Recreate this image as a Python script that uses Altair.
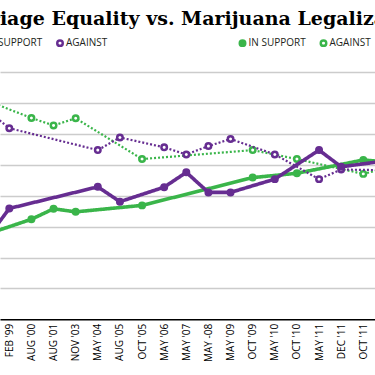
import altair as alt
import pandas as pd

# ---- data -------------------------------------------------------------------
title_text = "Marriage Equality vs. Marijuana Legalization"
series_names = ["IN SUPPORT", "AGAINST"]

x_labels = ["FEB '99", "AUG '00", "AUG '01", "NOV '03", "MAY '04", "AUG '05",
            "OCT '05", "MAY '06", "MAY '07", "MAY -08", "MAY '09", "OCT '09",
            "MAY '10", "OCT '10", "MAY '11", "DEC '11", "OCT '11"]

# position = index into x_labels (-1 and 17 lie just outside the cropped view)
marriage_pos = [-1, 0, 4, 5, 7, 8, 9, 10, 12, 14, 15, 17]
marriage_support = [26.2, 35.9, 42.9, 38.1, 42.8, 47.6, 41.1, 41.1, 45.4, 54.8, 49.4, 51.3]
marriage_against = [67.7, 61.9, 54.8, 58.9, 55.7, 53.4, 56.1, 58.4, 53.4, 45.4, 48.5, 48.3]

marijuana_pos = [-1, 1, 2, 3, 6, 11, 13, 16, 17]
marijuana_support = [27.6, 32.4, 35.8, 34.8, 36.9, 45.9, 47.3, 51.6, 51.0]
marijuana_against = [70.8, 65.2, 62.8, 65.1, 51.9, 54.8, 51.9, 47.1, 48.9]

grid_values = [10, 20, 30, 40, 50, 60, 70, 80]

PURPLE = "#662d91"
GREEN = "#3ab54a"


def long_table(pos, support, against):
    rows = []
    for p, v in zip(pos, against):
        rows.append({"pos": p, "value": v, "series": series_names[1]})
    for p, v in zip(pos, support):
        rows.append({"pos": p, "value": v, "series": series_names[0]})
    return pd.DataFrame(rows)


marriage_df = long_table(marriage_pos, marriage_support, marriage_against)
marijuana_df = long_table(marijuana_pos, marijuana_support, marijuana_against)

label_expr = "[" + ",".join('"%s"' % s for s in x_labels) + "][datum.value]"

x_enc = alt.X(
    "pos:Q",
    scale=alt.Scale(domain=[-0.4203, 16.529], nice=False, zero=False),
    axis=alt.Axis(
        values=list(range(len(x_labels))), labelExpr=label_expr, labelAngle=270,
        offset=-55.7, ticks=False, grid=False, title=None,
        domainColor="black", domainWidth=1.5,
        labelFont="Open Sans", labelFontSize=10, labelColor="black",
        labelPadding=4, labelOverlap=False, labelFlush=False, labelBound=False,
    ),
)
y_enc = alt.Y(
    "value:Q",
    scale=alt.Scale(domain=[-18.04, 103.42], nice=False, zero=False),
    axis=alt.Axis(values=grid_values, grid=True, gridColor="#cccccc", gridWidth=1.5,
                  labels=False, ticks=False, domain=False, title=None),
)
dash_enc = alt.StrokeDash("series:N", scale=alt.Scale(domain=series_names, range=[[1, 0], [2, 2]]), legend=None)
width_enc = alt.StrokeWidth("series:N", scale=alt.Scale(domain=series_names, range=[3.6, 2.2]), legend=None)


def topic_layer(df, color, legend_x):
    lines = alt.Chart(df).mark_line(color=color, clip=True, strokeCap="butt").encode(
        x=x_enc, y=y_enc, strokeDash=dash_enc, strokeWidth=width_enc
    )
    points = alt.Chart(df).mark_point(
        shape="circle", filled=True, stroke=color, strokeWidth=2.5, size=30, opacity=1, clip=True
    ).encode(
        x=x_enc, y=y_enc,
        fill=alt.Fill(
            "series:N",
            scale=alt.Scale(domain=series_names, range=[color, "white"]),
            legend=alt.Legend(
                orient="none", legendX=legend_x, legendY=38, direction="horizontal",
                title=None, symbolType="circle", symbolSize=30, symbolStrokeWidth=2.5,
                symbolStrokeColor=color, labelFont="Open Sans", labelFontSize=10,
                labelColor="#231f20", columnPadding=9, labelOffset=1, padding=0,
            ),
        ),
    )
    return alt.layer(lines, points)


marijuana = topic_layer(marijuana_df, GREEN, 237.5)
marriage = topic_layer(marriage_df, PURPLE, -26)

chart = (
    alt.layer(marijuana, marriage)
    .resolve_scale(fill="independent")
    .properties(
        width=375, height=375, padding=0,
        autosize=alt.AutoSizeParams(type="none"),
        background="white",
        title=alt.TitleParams(
            text=title_text, font="DejaVu Serif", fontSize=19, fontWeight="bold",
            color="black", anchor="middle", frame="group", offset=0, dy=44,
            baseline="alphabetic",
        ),
    )
    .configure_view(stroke=None)
)

chart.save("out.html", embed_options={"renderer": "svg", "actions": False})
